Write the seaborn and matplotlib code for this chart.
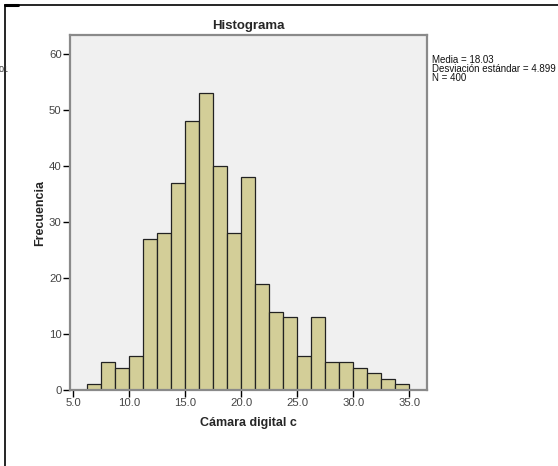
import matplotlib
matplotlib.use("Agg")
import matplotlib.pyplot as plt
from matplotlib.lines import Line2D
import seaborn as sns
import numpy as np

# Data
bin_left = [6.25, 7.5, 8.75, 10.0, 11.25, 12.5, 13.75, 15.0, 16.25, 17.5, 18.75, 20.0,
            21.25, 22.5, 23.75, 25.0, 26.25, 27.5, 28.75, 30.0, 31.25, 32.5, 33.75]
bin_width = 1.25
counts = [1, 5, 4, 6, 27, 28, 37, 48, 53, 40, 28, 38, 19, 14, 13, 6, 13, 5, 5, 4, 3, 2, 1]
x_ticks = [5.0, 10.0, 15.0, 20.0, 25.0, 30.0, 35.0]
y_ticks = [0, 10, 20, 30, 40, 50, 60]
title = "Histograma"
x_label = "Cámara digital c"
y_label = "Frecuencia"
stats_text = "Media = 18.03\nDesviación estándar = 4.899\nN = 400"

sns.set_style("white")
plt.rcParams["font.family"] = ["Liberation Sans", "DejaVu Sans"]

W, H = 558, 466
fig = plt.figure(figsize=(W / 100, H / 100), dpi=100)
fig.patch.set_facecolor("white")

L, R, T, B = 70, 427, 35, 390
ax = fig.add_axes([L / W, (H - B) / H, (R - L) / W, (B - T) / H])
ax.set_facecolor("#f0f0f0")

centers = [b + bin_width / 2 for b in bin_left]
edges = bin_left + [bin_left[-1] + bin_width]
sns.histplot(x=centers, weights=counts, bins=edges, ax=ax, color="#d3ce98",
             edgecolor="#222222", linewidth=0.9, alpha=1.0)

ax.set_xlim(4.70, 36.58)
ax.set_ylim(0, 63.4)
ax.set_xticks(x_ticks)
ax.set_xticklabels([f"{v:.1f}" for v in x_ticks])
ax.set_yticks(y_ticks)
ax.set_yticklabels([str(v) for v in y_ticks])
ax.tick_params(axis="both", direction="out", length=5, width=1, color="black",
               labelsize=8.2, labelcolor="#444444", pad=1, bottom=True, left=True)
for s in ax.spines.values():
    s.set_color("#8a8a8a")
    s.set_linewidth(1.6)
    s.set_visible(True)

ax.set_xlabel(x_label, fontsize=9, fontweight="bold", labelpad=6)
ax.set_ylabel(y_label, fontsize=9, fontweight="bold", labelpad=2)
ax.set_title(title, fontsize=9.5, fontweight="bold", pad=4)

fig.text(432 / W, 1 - 55 / H, stats_text, fontsize=7, va="top", ha="left",
         color="#111111", linespacing=0.85)

# Frame lines from the output viewer
def px_line(x0, y0, x1, y1, lw):
    fig.add_artist(Line2D([x0 / W, x1 / W], [1 - y0 / H, 1 - y1 / H],
                          transform=fig.transFigure, color="black", linewidth=lw))

px_line(5, 5, W, 5, 1.2)
px_line(5, 5, 5, H, 1.2)
px_line(5, 5, 18, 5, 2.2)
fig.text(-1 / W, 1 - 70 / H, "01", fontsize=6.5, ha="left", va="center", color="#333333")

fig.savefig("out.png", dpi=100)
